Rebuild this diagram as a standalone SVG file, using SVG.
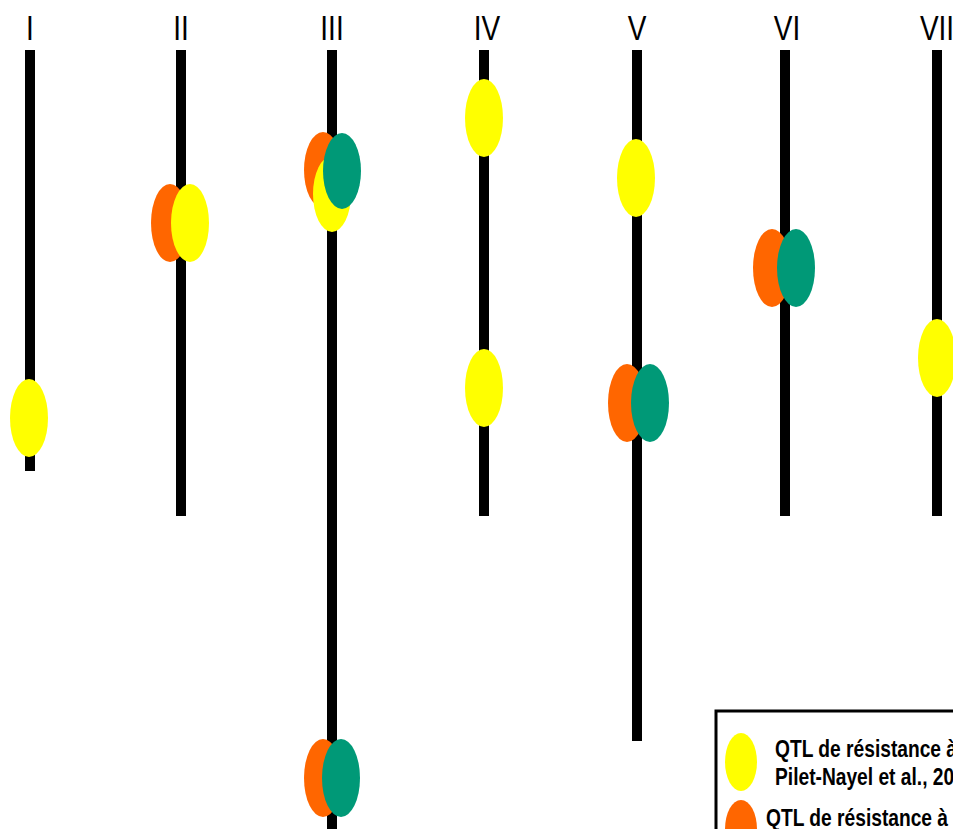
<svg xmlns="http://www.w3.org/2000/svg" width="953" height="829" viewBox="0 0 953 829">
<style>
.lbl{font-family:"Liberation Sans",Arial,sans-serif;font-size:35px;fill:#000;text-anchor:middle}
.chr{fill:#000}
.y{fill:#ffff00}
.o{fill:#ff6600}
.g{fill:#009977}
.lt{font-family:"Liberation Sans",Arial,sans-serif;font-size:24px;font-weight:bold;fill:#000}
</style>
<rect width="953" height="829" fill="#fff"/>
<g id="chr-I"><text class="lbl" transform="translate(30,40) scale(0.8,1)">I</text><rect class="chr" x="25" y="50" width="10" height="421"/><ellipse class="y" cx="29" cy="418" rx="19" ry="39"/></g>
<g id="chr-II"><text class="lbl" transform="translate(181,40) scale(0.8,1)">II</text><rect class="chr" x="176" y="50" width="10" height="466"/><ellipse class="o" cx="170" cy="223" rx="19" ry="39"/><ellipse class="y" cx="190" cy="223" rx="19" ry="39"/></g>
<g id="chr-III"><text class="lbl" transform="translate(332,40) scale(0.8,1)">III</text><rect class="chr" x="327" y="50" width="10" height="779"/><ellipse class="o" cx="323" cy="170" rx="19" ry="38"/><ellipse class="y" cx="332" cy="194" rx="19" ry="38"/><ellipse class="g" cx="342" cy="171" rx="19" ry="38"/><ellipse class="o" cx="323" cy="778" rx="19" ry="39"/><ellipse class="g" cx="341" cy="778" rx="19" ry="39"/></g>
<g id="chr-IV"><text class="lbl" transform="translate(487,40) scale(0.8,1)">IV</text><rect class="chr" x="479" y="50" width="10" height="466"/><ellipse class="y" cx="484" cy="118" rx="19" ry="39"/><ellipse class="y" cx="484" cy="388" rx="19" ry="39"/></g>
<g id="chr-V"><text class="lbl" transform="translate(637,40) scale(0.8,1)">V</text><rect class="chr" x="632" y="50" width="10" height="691"/><ellipse class="y" cx="636" cy="178" rx="19" ry="39"/><ellipse class="o" cx="627" cy="403" rx="19" ry="39"/><ellipse class="g" cx="650" cy="403" rx="19" ry="39"/></g>
<g id="chr-VI"><text class="lbl" transform="translate(787,40) scale(0.8,1)">VI</text><rect class="chr" x="780" y="50" width="10" height="466"/><ellipse class="o" cx="772" cy="268" rx="19" ry="39"/><ellipse class="g" cx="796" cy="268" rx="19" ry="39"/></g>
<g id="chr-VII"><text class="lbl" transform="translate(937,40) scale(0.8,1)">VII</text><rect class="chr" x="932" y="50" width="10" height="466"/><ellipse class="y" cx="937" cy="358" rx="19" ry="39"/></g>
<g id="legend">
<rect x="716" y="711" width="260" height="140" fill="#fff" stroke="#000" stroke-width="3"/>
<ellipse class="y" cx="741" cy="762" rx="16" ry="29"/>
<text class="lt" transform="translate(775,757) scale(0.8,1)">QTL de résistance à</text>
<text class="lt" transform="translate(775,785) scale(0.8,1)">Pilet-Nayel et al., 20</text>
<ellipse class="o" cx="741" cy="829" rx="16" ry="29"/>
<text class="lt" transform="translate(766,826) scale(0.8,1)">QTL de résistance à</text>
</g>
<g id="connectors"></g>
</svg>
